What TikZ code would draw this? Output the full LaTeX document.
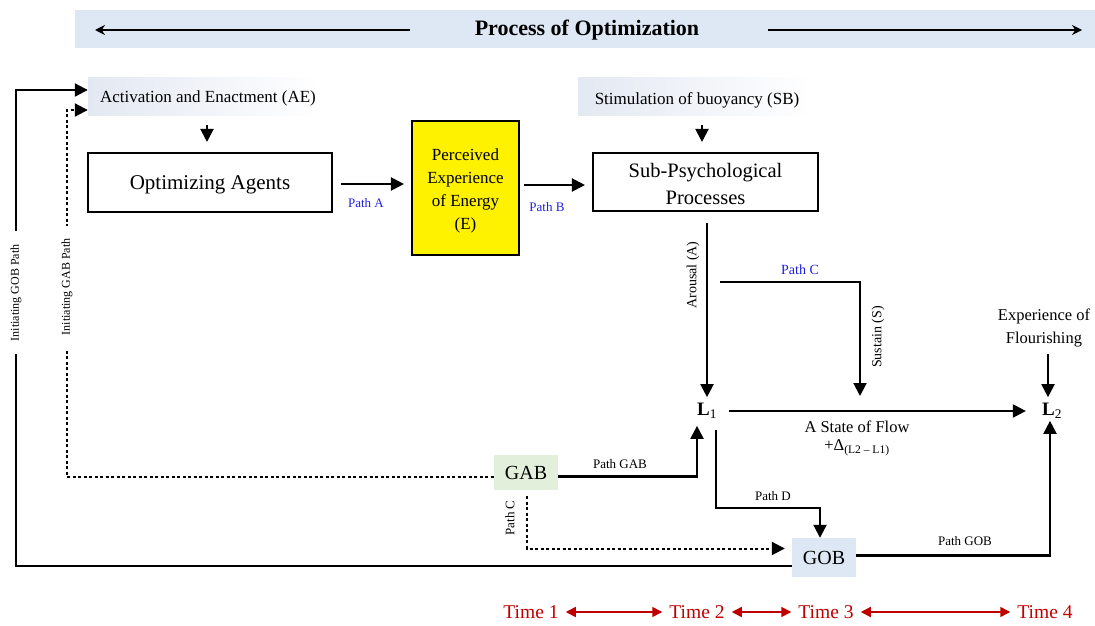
\documentclass[tikz,border=0pt]{standalone}
\usepackage{fontspec}
\setmainfont{Liberation Serif}
\usetikzlibrary{arrows.meta,calc}
\definecolor{bannerblue}{HTML}{DEE8F4}
\definecolor{gabgreen}{HTML}{E2EFDA}
\definecolor{gobblue}{HTML}{DDE8F4}
\definecolor{pathblue}{HTML}{1F1FE0}
\definecolor{timered}{HTML}{C00000}
\definecolor{aeshade}{HTML}{E3E8F2}
\newcommand{\fs}[1]{\fontsize{#1}{#1}\selectfont}
\tikzset{
  tip/.tip={Triangle[length=13pt,width=13pt]},
  arr/.style={line width=2.1pt,-tip},
  dotln/.style={line width=2pt,dash pattern=on 3pt off 2.5pt},
  box/.style={draw,line width=2.1pt,align=center},
  shadebox/.style={shade,left color=aeshade,right color=white,shading angle=90,minimum height=37pt,inner sep=0pt},
  pathlbl/.style={font=\fs{13},text=pathblue,inner sep=1pt},
  blk/.style={font=\fs{13},inner sep=1pt},
  timelbl/.style={font=\fs{19.5},text=timered,inner sep=1pt},
  timearr/.style={timered,line width=1.5pt,{Triangle[length=10pt,width=10pt]}-{Triangle[length=10pt,width=10pt]}}
}
\begin{document}
\begin{tikzpicture}[x=1pt,y=-1pt]
\useasboundingbox (0,0) rectangle (1095,626);
% banner
\node[fill=bannerblue,minimum width=1020pt,minimum height=38pt,inner sep=0pt] (banner) at (585,29) {};
\node[font=\fs{22}\bfseries] (bt) at (587,30) {Process of Optimization};
\coordinate (bl) at (95,30);
\coordinate (br) at (1082,30);
\coordinate (bls) at (410,30);
\coordinate (brs) at (768,30);
\draw[line width=2.1pt,-{Stealth[length=10pt,width=10pt]}] (bls) -- (bl);
\draw[line width=2.1pt,-{Stealth[length=10pt,width=10pt]}] (brs) -- (br);
% top labels
\node[shadebox,minimum width=232pt] (ae) at (204,96.5) {};
\node[font=\fs{17}] (aet) at (208,98) {Activation and Enactment (AE)};
\node[shadebox,minimum width=232pt] (sb) at (694,96.5) {};
\node[font=\fs{17}] (sbt) at (697,100) {Stimulation of buoyancy (SB)};
% main boxes
\node[box,minimum width=244pt,minimum height=59pt] (oa) at (210,182.5) {};
\node[font=\fs{21}] (oat) at (210,185) {Optimizing Agents};
\node[box,fill=yellow,minimum width=107pt,minimum height=134pt] (en) at (465.5,188) {};
\node[font=\fs{17},align=center] (ent) at (465.5,191) {Perceived\\[6pt]Experience\\[6pt]of Energy\\[6pt](E)};
\node[box,minimum width=225pt,minimum height=58pt] (sub) at (705.5,182) {};
\node[font=\fs{20.5},align=center] (subt) at (705.5,184) {Sub-Psychological\\[6pt]Processes};
\coordinate (aedown) at (207,125);
\draw[arr,shorten >=10pt] (aedown) -- (aedown |- oa.north);
\coordinate (sbdown) at (702,125);
\draw[arr,shorten >=10pt] (sbdown) -- (sbdown |- sub.north);
\coordinate (pas) at (341,184);
\draw[arr,shorten >=7pt] (pas) -- (pas -| en.west);
\node[pathlbl] (pa) at (366,203) {Path A};
\coordinate (pbs) at (524,185);
\draw[arr,shorten >=7pt] (pbs) -- (pbs -| sub.west);
\node[pathlbl] (pb) at (547,207) {Path B};
% L nodes
\node[font=\fs{19},inner sep=2pt] (l1) at (707,411) {\textbf{L}\textsubscript{1}};
\node[font=\fs{19},inner sep=2pt] (l2) at (1052,411) {\textbf{L}\textsubscript{2}};
\draw[arr,shorten <=11pt,shorten >=4pt] (sub.south -| l1) -- (l1.north);
\node[blk,font=\fs{14},rotate=90] (arl) at (693,275) {Arousal (A)};
\coordinate (c1) at (720,282);
\coordinate (c2) at (860,396);
\draw[arr] (c1) -| (c2);
\node[pathlbl,font=\fs{14}] (pc) at (800,270) {Path C};
\node[blk,font=\fs{14},rotate=90] (sus) at (878,337) {Sustain (S)};
\draw[arr,shorten <=10pt,shorten >=14pt] (l1.east) -- (l2.west);
\node[font=\fs{16.5},align=center] (flow) at (857,438) {A State of Flow\\[2pt]+Δ\textsubscript{(L2 – L1)}};
\node[font=\fs{16.5},align=center] (flour) at (1044,328) {Experience of\\[6pt]Flourishing};
\draw[arr,shorten <=4pt,shorten >=4pt] ([xshift=4pt]flour.south) -- ([xshift=-4pt]l2.north);
% GAB / GOB
\node[fill=gabgreen,minimum width=64pt,minimum height=35pt,font=\fs{20},inner sep=0pt] (gab) at (526,472.5) {GAB};
\node[fill=gobblue,minimum width=64pt,minimum height=39pt,font=\fs{20},inner sep=0pt] (gob) at (824,557.5) {GOB};
\draw[arr,shorten >=5pt] ([yshift=-4pt]gab.east) -| ([xshift=-10pt]l1.south);
\node[blk] (pgab) at (620,464) {Path GAB};
\draw[arr,shorten <=9pt] ([xshift=9pt]l1.south) -- (716,508) -| ([xshift=-4pt]gob.north);
\node[blk] (pd) at (773,496) {Path D};
\draw[arr] ([yshift=2pt]gob.east) -| ([xshift=-2pt]l2.south);
\node[blk] (pgob) at (965,541) {Path GOB};
\draw[dotln,-tip,shorten <=6pt,shorten >=7pt] ([xshift=1pt]gab.south) |- ([yshift=9pt]gob.west);
\node[blk,rotate=90] (pc2) at (510,518) {Path C};
% feedback paths
\draw[dotln,-tip] ([yshift=-4.5pt]gab.west) -- (67,477) -- node[pos=0.518,rotate=90,fill=white,inner xsep=13pt,inner ysep=2pt,font=\fs{12}] (igab) {Initiating GAB Path} (67,110) -- ([yshift=-13.5pt]ae.west);
\draw[arr] ([yshift=-8.5pt]gob.west) -- (16,566) -- node[pos=0.574,rotate=90,fill=white,inner xsep=13pt,inner ysep=2pt,font=\fs{12}] (igob) {Initiating GOB Path} (16,90) -- ([yshift=6.5pt]ae.west);
% time row
\node[timelbl] (t1) at (531,612) {Time 1};
\node[timelbl] (t2) at (697,612) {Time 2};
\node[timelbl] (t3) at (826,612) {Time 3};
\node[timelbl] (t4) at (1045,612) {Time 4};
\draw[timearr,shorten <=6pt,shorten >=6pt] (t1.east) -- (t2.west);
\draw[timearr,shorten <=6pt,shorten >=6pt] (t2.east) -- (t3.west);
\draw[timearr,shorten <=6pt,shorten >=6pt] (t3.east) -- (t4.west);
\end{tikzpicture}
\end{document}
